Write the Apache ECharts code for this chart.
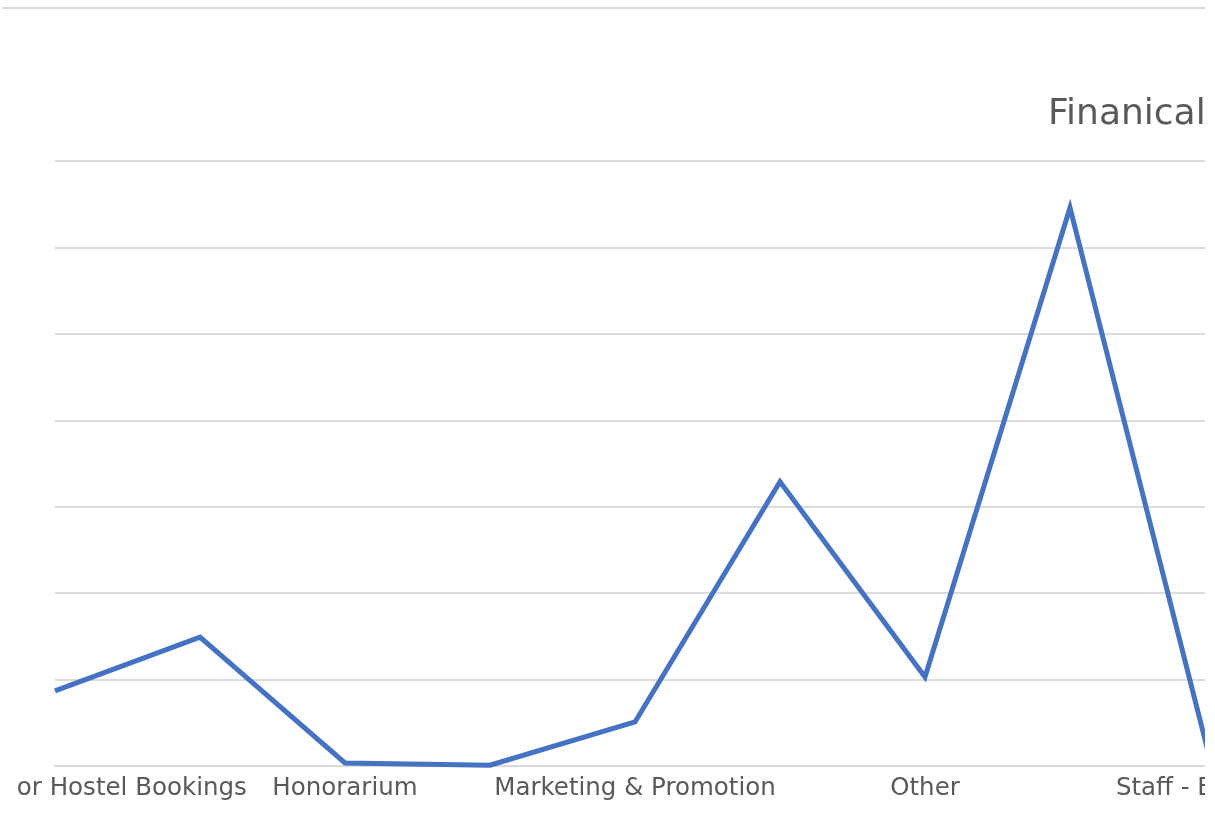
<!DOCTYPE html>
<html>
<head>
<meta charset="utf-8">
<script src="https://cdn.jsdelivr.net/npm/echarts@6/dist/echarts.min.js"></script>
<style>
  html, body { margin: 0; padding: 0; background: #ffffff; overflow: hidden; }
  #wrap {
    position: absolute; left: 2px; top: 7px; width: 1203px; height: 809px;
    border-top: 2px solid #d9d9d9; border-bottom: 2px solid #d9d9d9;
    overflow: hidden; background: #fff;
  }
  #chart { position: absolute; left: 8px; top: 0; width: 1400px; height: 809px; }
</style>
</head>
<body>
<div id="wrap"><div id="chart"></div></div>
<script>
// ---- data ----
const titleText = 'Finanical Summary';
const categories = [
  'Guesthouse or Hostel Bookings',
  'Hall Rental',
  'Honorarium',
  'Insurance',
  'Marketing & Promotion',
  'Office Supplies',
  'Other',
  'Printing',
  'Staff - Expenses'
];
const amounts = [870, 1490, 35, 10, 510, 3290, 1030, 6460, -150];
const yMin = 0;
const yMax = 7000;
const yInterval = 1000;

const chart = echarts.init(document.getElementById('chart'), null, { renderer: 'canvas' });
chart.setOption({
  animation: false,
  backgroundColor: '#ffffff',
  title: {
    text: titleText,
    left: 1033,
    top: 83,
    textStyle: { fontFamily: 'DejaVu Sans', fontSize: 36, fontWeight: 'normal', color: '#595959' }
  },
  grid: { left: 45, top: 152, right: 195, bottom: 52, containLabel: false, outerBoundsMode: 'none' },
  xAxis: {
    type: 'category',
    data: categories,
    boundaryGap: false,
    axisLine: { lineStyle: { color: '#d9d9d9', width: 2 } },
    axisTick: { show: false },
    axisLabel: {
      interval: 1,
      margin: 10,
      showMinLabel: true,
      showMaxLabel: true,
      hideOverlap: false,
      fontFamily: 'DejaVu Sans',
      fontSize: 24.5,
      color: '#595959'
    }
  },
  yAxis: {
    type: 'value',
    min: yMin,
    max: yMax,
    interval: yInterval,
    axisLabel: { show: false },
    axisLine: { show: false },
    axisTick: { show: false },
    splitLine: { lineStyle: { color: '#dcdcdc', width: 2 } }
  },
  series: [{
    type: 'line',
    data: amounts,
    showSymbol: false,
    symbol: 'none',
    clip: true,
    lineStyle: { color: '#4472c4', width: 5, join: 'miter', cap: 'butt' }
  }]
});
</script>
</body>
</html>
